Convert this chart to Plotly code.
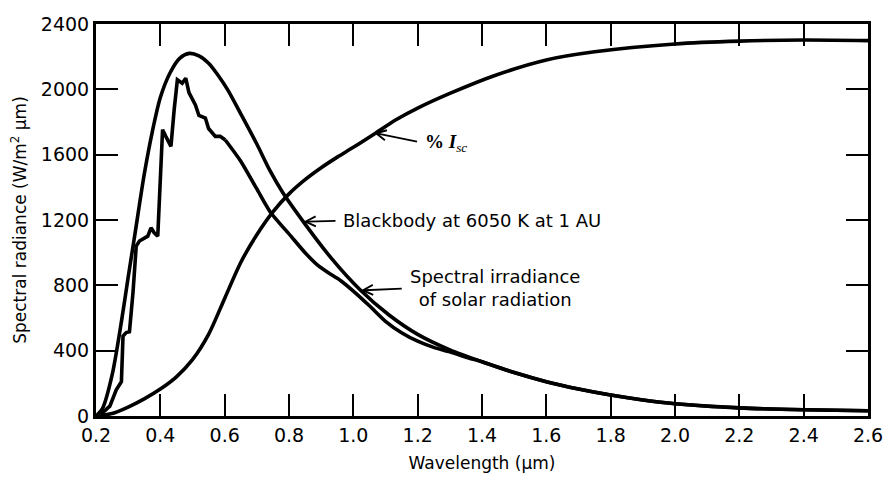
import plotly.graph_objects as go

# ---- data ----
bb_wavelength = [0.20, 0.22, 0.25, 0.28, 0.30, 0.32, 0.35, 0.375, 0.40, 0.43, 0.46, 0.49,
                 0.52, 0.55, 0.58, 0.61, 0.65, 0.70, 0.74, 0.78, 0.85, 0.93, 1.02, 1.11,
                 1.20, 1.30, 1.40, 1.50, 1.60, 1.70, 1.80, 1.90, 2.00, 2.20, 2.40, 2.60]
bb_radiance = [0, 45, 250, 590, 850, 1100, 1480, 1740, 1950, 2100, 2190, 2220,
               2205, 2160, 2085, 1995, 1850, 1665, 1505, 1370, 1175, 970, 775, 620,
               500, 405, 332, 266, 210, 165, 128, 98, 75, 50, 38, 32]

solar_wavelength = [0.20, 0.212, 0.243, 0.263, 0.279, 0.284, 0.294, 0.304, 0.315, 0.325,
                    0.335, 0.361, 0.371, 0.381, 0.392, 0.397, 0.407, 0.417, 0.433, 0.443,
                    0.453, 0.468, 0.479, 0.489, 0.509, 0.52, 0.54, 0.55, 0.571, 0.586,
                    0.602, 0.65, 0.70, 0.74, 0.806, 0.85, 0.888, 0.92, 0.96, 1.00,
                    1.05, 1.10, 1.15, 1.20, 1.25, 1.30, 1.35, 1.40, 1.50, 1.60,
                    1.70, 1.80, 1.90, 2.00, 2.20, 2.40, 2.60]
solar_irradiance = [0, 5, 60, 160, 210, 490, 511, 515, 755, 1040,
                    1071, 1101, 1152, 1122, 1101, 1366, 1753, 1712, 1651, 1875,
                    2058, 2037, 2068, 1980, 1905, 1840, 1824, 1760, 1712, 1712,
                    1690, 1560, 1390, 1254, 1101, 1000, 925, 880, 830, 765,
                    675, 580, 510, 458, 420, 393, 360, 332, 266, 210,
                    165, 128, 98, 75, 50, 38, 32]
# index where the spiky (measured) part ends and the smooth tail begins
solar_split = 30

isc_wavelength = [0.20, 0.25, 0.30, 0.35, 0.40, 0.45, 0.50, 0.55, 0.60, 0.65, 0.70, 0.75,
                  0.80, 0.85, 0.90, 0.95, 1.00, 1.07, 1.134, 1.20, 1.30, 1.44, 1.60, 1.75,
                  2.00, 2.20, 2.40, 2.60]
isc_value = [0, 15, 55, 105, 165, 240, 345, 500, 720, 940, 1110, 1250,
             1360, 1447, 1520, 1585, 1645, 1733, 1815, 1885, 1975, 2085, 2180, 2230,
             2278, 2295, 2302, 2298]

x_ticks = [0.2, 0.4, 0.6, 0.8, 1.0, 1.2, 1.4, 1.6, 1.8, 2.0, 2.2, 2.4, 2.6]
x_ticktext = ["0.2", "0.4", "0.6", "0.8", "1.0", "1.2", "1.4", "1.6", "1.8", "2.0", "2.2", "2.4", "2.6"]
y_ticks = [0, 400, 800, 1200, 1600, 2000, 2400]

FONT = "DejaVu Sans"
LW = 3.6

fig = go.Figure()
fig.add_trace(go.Scatter(x=bb_wavelength, y=bb_radiance, mode="lines",
                         line=dict(color="black", width=LW, shape="spline", smoothing=0.8),
                         name="Blackbody", showlegend=False))
fig.add_trace(go.Scatter(x=solar_wavelength[:solar_split + 1], y=solar_irradiance[:solar_split + 1],
                         mode="lines", line=dict(color="black", width=LW),
                         name="Solar", showlegend=False))
fig.add_trace(go.Scatter(x=solar_wavelength[solar_split:], y=solar_irradiance[solar_split:],
                         mode="lines", line=dict(color="black", width=LW, shape="spline", smoothing=0.7),
                         name="Solar tail", showlegend=False))
fig.add_trace(go.Scatter(x=isc_wavelength, y=isc_value, mode="lines",
                         line=dict(color="black", width=LW, shape="spline", smoothing=0.8),
                         name="% Isc", showlegend=False))

axis_common = dict(showgrid=False, zeroline=False, showline=True, linewidth=3,
                   linecolor="black", mirror="ticks", ticks="inside", ticklen=22,
                   tickwidth=2, tickcolor="black", ticklabeloverflow="allow")

fig.update_layout(
    width=895, height=483,
    margin=dict(l=96, r=17, t=24, b=65),
    paper_bgcolor="white", plot_bgcolor="white",
    font=dict(family=FONT, color="black"),
    xaxis=dict(range=[0.2, 2.6], tickvals=x_ticks, ticktext=x_ticktext,
               tickfont=dict(size=19, family=FONT),
               title=dict(text="Wavelength (μm)", font=dict(size=17, family=FONT), standoff=13),
               **axis_common),
    yaxis=dict(range=[0, 2400], tickvals=y_ticks,
               tickfont=dict(size=19, family=FONT),
               title=dict(text="Spectral radiance (W/m<sup>2</sup> μm)", font=dict(size=17, family=FONT), standoff=10),
               **axis_common),
)

arrow_common = dict(showarrow=True, arrowhead=5, arrowsize=1.1, arrowwidth=1.8,
                    arrowcolor="black", axref="pixel", ayref="pixel", xref="x", yref="y",
                    xanchor="left", yanchor="middle", startstandoff=6)

# "% Isc" label with arrow to the cumulative curve
fig.add_annotation(x=1.064, y=1734, ax=49, ay=10,
                   text="<b>% <i>I</i></b><sub><i>sc</i></sub>",
                   font=dict(family="Liberation Serif", size=19, color="black"),
                   **arrow_common)
# Blackbody label
fig.add_annotation(x=0.845, y=1190, ax=38, ay=-1,
                   text="Blackbody at 6050 K at 1 AU",
                   font=dict(family=FONT, size=18, color="black"),
                   **arrow_common)
# Solar label (two lines, centred)
fig.add_annotation(x=1.023, y=769, ax=47, ay=-2, align="center",
                   text="Spectral irradiance<br>of solar radiation",
                   font=dict(family=FONT, size=18, color="black"),
                   **arrow_common)

fig.write_html("out.html", config={"displayModeBar": False})
